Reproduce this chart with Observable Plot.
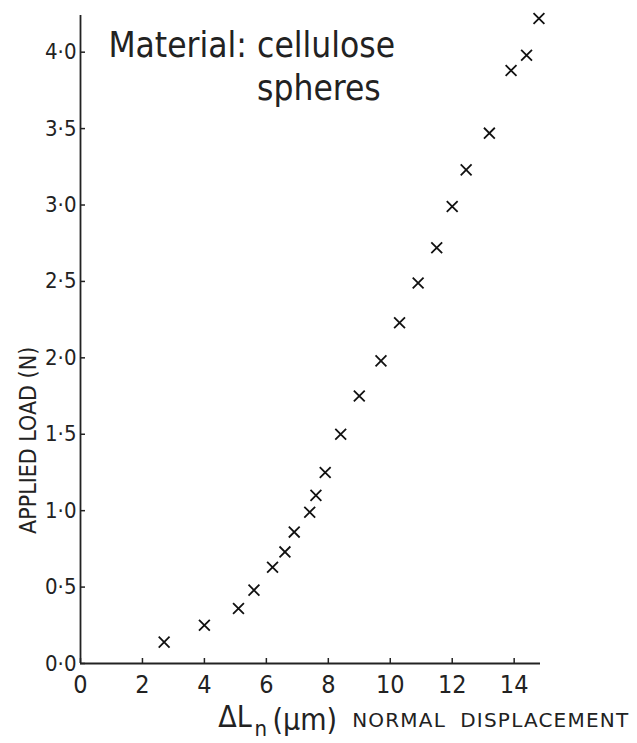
<!DOCTYPE html>
<html>
<head>
<meta charset="utf-8">
<script src="https://cdn.jsdelivr.net/npm/d3@7"></script>
<script src="https://cdn.jsdelivr.net/npm/@observablehq/plot@0.6"></script>
<style>
  html, body { margin: 0; padding: 0; background: #fff; }
  #chart svg { display: block; }
</style>
</head>
<body>
<div id="chart"></div>
<script>
// Normal displacement ΔLn (µm)
const displacement = [2.7, 4.0, 5.1, 5.6, 6.2, 6.6, 6.9, 7.4, 7.6, 7.9, 8.4, 9.0, 9.7, 10.3, 10.9, 11.5, 12.0, 12.45, 13.2, 13.9, 14.4, 14.8];
// Applied load (N)
const load = [0.14, 0.25, 0.36, 0.48, 0.63, 0.73, 0.86, 0.99, 1.10, 1.25, 1.50, 1.75, 1.98, 2.23, 2.49, 2.72, 2.99, 3.23, 3.47, 3.88, 3.98, 4.22];

const xTicks = [0, 2, 4, 6, 8, 10, 12, 14];
const yTicks = [0, 0.5, 1.0, 1.5, 2.0, 2.5, 3.0, 3.5, 4.0];

// in-plot annotation
const noteTexts = ["Material:", "cellulose", "spheres"];
const noteX = [0.9, 5.7, 5.7];
const noteY = [4.04, 4.04, 3.76];

// axis titles
const yTitle = "APPLIED LOAD (N)";
const yTitleX = -1.68, yTitleY = 1.46;
const xTitleParts = ["ΔL", "n", "(μm)", "NORMAL", "DISPLACEMENT"];
const xTitleX = [4.45, 5.62, 6.2, 8.77, 12.26];
const xTitleY = [-0.355, -0.43, -0.373, -0.373, -0.373];
const xTitleSize = [30, 22, 30, 20, 20];

const points = displacement.map((d, i) => ({x: d, y: load[i]}));
const notes = noteTexts.map((t, i) => ({t, x: noteX[i], y: noteY[i]}));
const xTitle = xTitleParts.map((t, i) => ({t, x: xTitleX[i], y: xTitleY[i], s: xTitleSize[i]}));

const FONT = '"Liberation Sans Narrow", "DejaVu Sans Condensed", "Roboto Condensed", Roboto, sans-serif';
const INK = "#222";

const fmt = d => d.toFixed(1).replace(".", "·");

const chart = Plot.plot({
  width: 637,
  height: 743,
  marginLeft: 80,
  marginRight: 97,
  marginTop: 15,
  marginBottom: 80,
  style: {fontFamily: FONT, color: INK, background: "#fff"},
  x: {domain: [0, 14.85]},
  y: {domain: [0, 4.24]},
  marks: [
    Plot.ruleX([0], {stroke: INK, strokeWidth: 1.8}),
    Plot.ruleY([0], {stroke: INK, strokeWidth: 1.8}),
    Plot.axisY({ticks: yTicks, tickFormat: fmt, tickSize: -5, tickPadding: 9, fontSize: 22, label: null, stroke: INK, strokeWidth: 1.5}),
    Plot.axisX({ticks: xTicks, tickFormat: d => String(d), tickSize: -5, tickPadding: 17, fontSize: 25, label: null, stroke: INK, strokeWidth: 1.5}),
    Plot.dot(points, {x: "x", y: "y", symbol: "times", r: 5, stroke: "#111", strokeWidth: 1.8}),
    Plot.text(notes, {x: "x", y: "y", text: "t", textAnchor: "start", fontSize: 35, fill: INK}),
    Plot.text([yTitle], {x: () => yTitleX, y: () => yTitleY, rotate: -90, fontSize: 23, fill: INK, clip: false}),
    Plot.text(xTitle.slice(0, 3), {x: "x", y: "y", text: "t", fontSize: "s", textAnchor: "start", fill: INK}),
    Plot.text(xTitle.slice(3), {x: "x", y: "y", text: "t", fontSize: "s", textAnchor: "start", fill: INK, fontFamily: '"DejaVu Sans", sans-serif'})
  ]
});
d3.select(chart).selectAll("text")
  .filter(function() { return this.textContent === "NORMAL" || this.textContent === "DISPLACEMENT"; })
  .attr("letter-spacing", 1.2);
document.getElementById("chart").appendChild(chart);
</script>
</body>
</html>
